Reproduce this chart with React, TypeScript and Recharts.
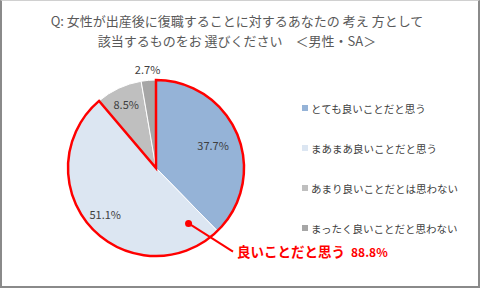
import { PieChart, Pie, Cell, Legend } from 'recharts';

// 回答データ（男性・SA）
const answers = [
  'とても良いことだと思う',
  'まあまあ良いことだと思う',
  'あまり良いことだとは思わない',
  'まったく良いことだと思わない',
];
const shares = [37.7, 51.1, 8.5, 2.7];
const sliceColors = ['#95B3D7', '#DCE6F2', '#BFBFBF', '#A6A6A6'];

// 「良いことだと思う」合計の枠
const positiveLabel = '良いことだと思う';
const positiveShare = [88.8, 11.2];

const titleLines = [
  'Q: 女性が出産後に復職することに対するあなたの 考え 方として',
  '該当するものをお 選びください　＜男性・SA＞',
];

const pieData = answers.map((name, i) => ({ name, value: shares[i] }));
const outlineData = positiveShare.map((value, i) => ({ name: i === 0 ? positiveLabel : 'other', value }));

const RAD = Math.PI / 180;
const FONT = '"Noto Sans CJK JP", "Noto Sans", sans-serif';
const CX = 156;
const CY = 168;
const R = 88;
// ラベル位置（半径に対する比率）
const labelRadius = [0.7, 0.78, 0.8, 1.13];

const renderLabel = (props: any) => {
  const { cx, cy, midAngle, outerRadius, index, value } = props;
  const r = outerRadius * labelRadius[index];
  const x = cx + r * Math.cos(-midAngle * RAD);
  const y = cy + r * Math.sin(-midAngle * RAD);
  return (
    <text x={x} y={y} textAnchor="middle" dominantBaseline="central" fill="#404040" fontSize={11} fontFamily={FONT}>
      {value.toFixed(1)}%
    </text>
  );
};

const renderCallout = (props: any) => {
  const { cx, cy, outerRadius, index, value } = props;
  if (index !== 0) return null;
  const dx = cx + outerRadius * 0.37;
  const dy = cy + outerRadius * 0.63;
  const ex = cx + outerRadius * 0.875;
  const ey = cy + outerRadius * 0.95;
  return (
    <g>
      <circle cx={dx} cy={dy} r={3.5} fill="#FF0000" />
      <line x1={dx} y1={dy} x2={ex} y2={ey} stroke="#FF0000" strokeWidth={2} />
      <text x={ex + 4} y={ey + 5} fill="#FF0000" fontWeight="bold" fontFamily={FONT}>
        <tspan fontSize={13.5}>{positiveLabel}</tspan>
        <tspan fontSize={12} dx={6}>{value.toFixed(1)}%</tspan>
      </text>
    </g>
  );
};

const renderLegend = () => (
  <div style={{ fontFamily: FONT, fontSize: 10.5, color: '#404040' }}>
    {answers.map((name, i) => (
      <div key={name} style={{ display: 'flex', alignItems: 'center', height: 40 }}>
        <span style={{ width: 6, height: 6, background: sliceColors[i], marginRight: 3, flexShrink: 0 }} />
        {name}
      </div>
    ))}
  </div>
);

export default function App() {
  return (
    <div
      style={{
        position: 'absolute', left: 0, top: 0, width: 480, height: 288, boxSizing: 'border-box',
        background: '#fff', borderLeft: '2px solid #8a8a8a', borderRight: '2px solid #8a8a8a',
        borderBottom: '2px solid #8a8a8a', borderTop: '1px solid #d0d0d0',
      }}
    >
      <div style={{ position: 'absolute', left: -2, top: -1 }}>
        <PieChart width={480} height={288} margin={{ top: 0, right: 0, bottom: 0, left: 0 }}>
          <text x={237} y={26} textAnchor="middle" fill="#595959" fontSize={13} fontFamily={FONT}>
            {titleLines[0]}
          </text>
          <text x={237} y={46} textAnchor="middle" fill="#595959" fontSize={13} fontFamily={FONT}>
            {titleLines[1]}
          </text>
          <Pie
            data={pieData}
            dataKey="value"
            cx={CX}
            cy={CY}
            outerRadius={R}
            startAngle={90}
            endAngle={-270}
            stroke="#ffffff"
            strokeWidth={1}
            label={renderLabel}
            labelLine={false}
            isAnimationActive={false}
          >
            {pieData.map((d, i) => (
              <Cell key={d.name} fill={sliceColors[i]} />
            ))}
          </Pie>
          <Pie
            data={outlineData}
            dataKey="value"
            cx={CX}
            cy={CY}
            outerRadius={R}
            startAngle={90}
            endAngle={-270}
            label={renderCallout}
            labelLine={false}
            isAnimationActive={false}
          >
            {outlineData.map((d, i) => (
              <Cell key={d.name} fill="none" stroke={i === 0 ? '#FF0000' : 'none'} strokeWidth={2.5} />
            ))}
          </Pie>
          <Legend
            layout="vertical"
            content={renderLegend}
            wrapperStyle={{ left: 302, top: 88, width: 178 }}
          />
        </PieChart>
      </div>
    </div>
  );
}
